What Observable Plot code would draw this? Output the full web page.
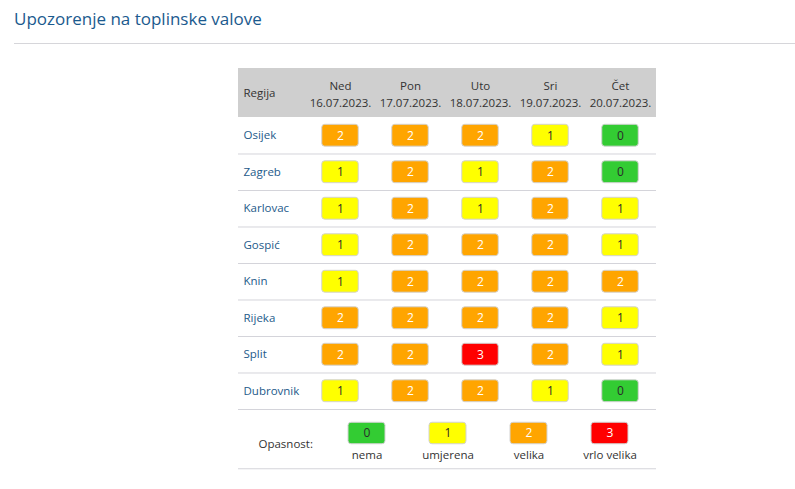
<!DOCTYPE html>
<html>
<head>
<meta charset="utf-8">
<script src="https://cdn.jsdelivr.net/npm/d3@7"></script>
<script src="https://cdn.jsdelivr.net/npm/@observablehq/plot@0.6"></script>
<style>
  html, body { margin: 0; padding: 0; background: #fff; width: 795px; height: 489px; overflow: hidden; }
  body { font-family: "Open Sans", sans-serif; position: relative; }
  #title { position: absolute; left: 14px; top: 7px; font-size: 17px; color: #1b5a8e; white-space: nowrap; }
  #sep { position: absolute; left: 14px; right: 0; top: 43px; border-top: 1px solid #d6d6da; }
  #table { position: absolute; left: 0; top: 60px; }
  #legend { position: absolute; left: 0; top: 410px; }
  svg { overflow: visible; }
</style>
</head>
<body>
<div id="title">Upozorenje na toplinske valove</div>
<div id="sep"></div>
<div id="table"></div>
<div id="legend"></div>
<script>
// ---- data ----
const days = ["Ned", "Pon", "Uto", "Sri", "Čet"];
const dates = ["16.07.2023.", "17.07.2023.", "18.07.2023.", "19.07.2023.", "20.07.2023."];
const cities = ["Osijek", "Zagreb", "Karlovac", "Gospić", "Knin", "Rijeka", "Split", "Dubrovnik"];
const osijek    = [2, 2, 2, 1, 0];
const zagreb    = [1, 2, 1, 2, 0];
const karlovac  = [1, 2, 1, 2, 1];
const gospic    = [1, 2, 2, 2, 1];
const knin      = [1, 2, 2, 2, 2];
const rijeka    = [2, 2, 2, 2, 1];
const split     = [2, 2, 3, 2, 1];
const dubrovnik = [1, 2, 2, 1, 0];
const levels = [0, 1, 2, 3];
const levelNames = ["nema", "umjerena", "velika", "vrlo velika"];
const legendTitle = "Opasnost:";
const firstColumn = "Regija";

// ---- build tables ----
const cityValues = [osijek, zagreb, karlovac, gospic, knin, rijeka, split, dubrovnik];
const cells = [];
cities.forEach((c, i) => days.forEach((d, j) => cells.push({city: c, row: i, day: d, level: cityValues[i][j]})));
const header = days.map((d, j) => ({day: d, label: d + "\n" + dates[j]}));
const rows = cities.map((c, i) => ({city: c, row: i}));

const levelColor = {type: "ordinal", domain: levels, range: ["#33cc33", "#ffff00", "#ffa500", "#ff0000"]};
const textColor = l => (l >= 2 ? "#ffffff" : "#2b2b2b");
const font = {fontFamily: "'Open Sans', sans-serif", fontSize: "11.5px", background: "transparent", overflow: "visible"};
const headerMid = -0.671;

const table = Plot.plot({
  width: 795,
  height: 350,
  marginLeft: 238,
  marginRight: 139,
  marginTop: 8,
  marginBottom: 1,
  style: font,
  x: {type: "band", domain: days, range: [303.5, 656], padding: 0, axis: null},
  y: {type: "linear", domain: [-1.342, 8], range: [8, 349], axis: null},
  color: levelColor,
  marks: [
    Plot.rect([0], {y1: -1.342, y2: 0, fill: "#cfcfcf"}),
    Plot.text(header, {x: "day", y: headerMid, text: "label", lineHeight: 1.45, fill: "#333", fontSize: 11.5}),
    Plot.text([firstColumn], {frameAnchor: "left", dx: 5, y: headerMid, textAnchor: "start", text: d => d, fill: "#333", fontSize: 11.5}),
    Plot.ruleY(rows, {y: d => d.row + 1, stroke: "#d4d4da", strokeWidth: 1}),
    Plot.text(rows, {frameAnchor: "left", dx: 5, y: d => d.row + 0.5, textAnchor: "start", text: "city", fill: "#245a8a", fontSize: 11.5}),
    Plot.barY(cells, {x: "day", y1: d => d.row + 0.2, y2: d => d.row + 0.8, fill: "level", stroke: "#d3d3d3", strokeWidth: 1, rx: 3, insetLeft: 16.75, insetRight: 16.75}),
    Plot.text(cells, {x: "day", y: d => d.row + 0.5, text: d => String(d.level), fill: d => textColor(d.level), fontSize: 12})
  ]
});
document.getElementById("table").appendChild(table);

const legendRows = levels.map((l, k) => ({level: l, name: levelNames[k]}));
const legend = Plot.plot({
  width: 795,
  height: 79,
  marginLeft: 238,
  marginRight: 139,
  marginTop: 11,
  marginBottom: 23,
  style: font,
  x: {type: "band", domain: levels, range: [326, 650], padding: 0, axis: null},
  y: {type: "band", domain: ["swatch", "label"], padding: 0, axis: null},
  color: levelColor,
  marks: [
    Plot.cell(legendRows, {x: "level", y: () => "swatch", fill: "level", stroke: "#d3d3d3", strokeWidth: 1, rx: 3, insetLeft: 22, insetRight: 22, insetTop: 0.25, insetBottom: 0.25}),
    Plot.text(legendRows, {x: "level", y: () => "swatch", text: d => String(d.level), fill: d => textColor(d.level), fontSize: 12}),
    Plot.text(legendRows, {x: "level", y: () => "label", text: "name", fill: "#333", fontSize: 11.5}),
    Plot.text([legendTitle], {frameAnchor: "left", dx: 20, textAnchor: "start", text: d => d, fill: "#333", fontSize: 11.5}),
    Plot.ruleY(["label"], {dy: 13.25, stroke: "#d4d4da", strokeWidth: 1})
  ]
});
document.getElementById("legend").appendChild(legend);
</script>
</body>
</html>
